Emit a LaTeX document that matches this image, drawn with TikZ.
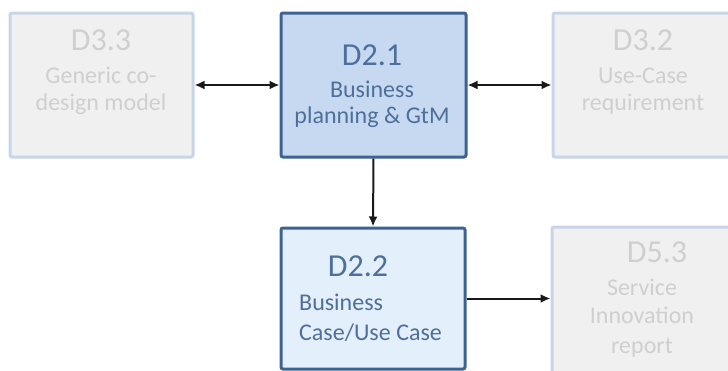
\documentclass[tikz,border=0pt]{standalone}
\usepackage{fontspec}
\setmainfont{Carlito}
\usetikzlibrary{arrows.meta}
\definecolor{greyfill}{HTML}{F0F0F0}
\definecolor{greyedge}{HTML}{C8D5E8}
\definecolor{greytext}{HTML}{CFCFCF}
\definecolor{navyedge}{HTML}{3D6393}
\definecolor{bluefill}{HTML}{C6D9F0}
\definecolor{palefill}{HTML}{E3EFFB}
\definecolor{bluetext}{HTML}{4E6F9C}
\tikzset{
  box/.style={rectangle, rounded corners=2pt, line width=3pt, inner sep=0pt},
  greybox/.style={box, draw=greyedge, fill=greyfill},
  mainbox/.style={box, draw=navyedge, fill=bluefill},
  subbox/.style={box, draw=navyedge, fill=palefill},
  head/.style={anchor=base, inner sep=0pt, font=\fontsize{32}{32}\selectfont},
  body/.style={anchor=base, inner sep=0pt, font=\fontsize{24}{24}\selectfont},
  link/.style={line width=2pt, draw=black!90},
  >={Latex[length=10pt,width=9pt]}
}
\begin{document}
\begin{tikzpicture}[x=1pt,y=-1pt]
\useasboundingbox (0,0) rectangle (728,370);
\clip (0,0) rectangle (728,370);

% boxes
\node[greybox, minimum width=183pt, minimum height=144pt] (d33) at (101.5,85) {};
\node[mainbox, minimum width=185pt, minimum height=144pt] (d21) at (373.5,85) {};
\node[greybox, minimum width=190pt, minimum height=144pt] (d32) at (648,85) {};
\node[subbox, minimum width=184pt, minimum height=141pt] (d22) at (373,298.5) {};
\node[greybox, minimum width=190pt, minimum height=150pt] (d53) at (647,302) {};

% D3.3
\node[head, text=greytext] (h33) at (101,50) {D3.3};
\node[body, text=greytext] (a33) at (101,83) {Generic co-};
\node[body, text=greytext] (b33) at (101,110) {design model};

% D2.1
\node[head, text=bluetext] (h21) at (372,65) {D2.1};
\node[body, text=bluetext] (a21) at (372,97) {Business};
\node[body, text=bluetext] (b21) at (372,123) {planning \& GtM};

% D3.2
\node[head, text=greytext] (h32) at (643,50) {D3.2};
\node[body, text=greytext] (a32) at (643,83) {Use-Case};
\node[body, text=greytext] (b32) at (643,110) {requirement};

% D2.2
\node[head, text=bluetext] (h22) at (358,276) {D2.2};
\node[body, text=bluetext, anchor=base west] (a22) at (299,310) {Business};
\node[body, text=bluetext, anchor=base west] (b22) at (299,340) {Case/Use Case};

% D5.3
\node[head, text=greytext] (h53) at (657,262) {D5.3};
\node[body, text=greytext] (a53) at (642,295) {Service};
\node[body, text=greytext] (b53) at (642,323) {Innovation};
\node[body, text=greytext] (c53) at (642,353) {report};

% connectors
\draw[link, <->] (d33.east) -- (d21.west);
\draw[link, <->] (d21.east) -- (d21.east -| d32.west);
\draw[link, ->] (d21.south) -- (d22.north);
\draw[link, ->] (d22.east) -- (d22.east -| d53.west);
\end{tikzpicture}
\end{document}
